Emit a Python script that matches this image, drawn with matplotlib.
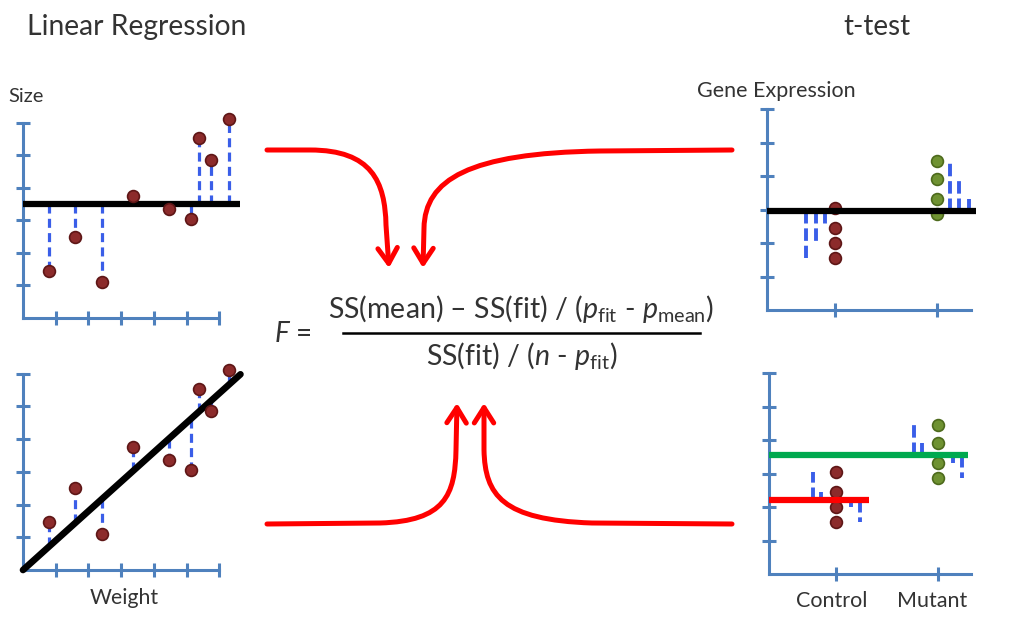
import matplotlib
matplotlib.use("Agg")
import matplotlib.pyplot as plt
from matplotlib.path import Path
from matplotlib.patches import FancyArrowPatch, ArrowStyle
import matplotlib.transforms as mtransforms

plt.rcParams['font.family'] = ['Lato', 'DejaVu Sans']
plt.rcParams['mathtext.fontset'] = 'custom'
plt.rcParams['mathtext.rm'] = 'Lato'
plt.rcParams['mathtext.it'] = 'Lato:italic'
plt.rcParams['lines.scale_dashes'] = False

# ---------------- data ----------------
weight = [0.80, 1.59, 2.42, 3.36, 4.46, 5.14, 5.38, 5.75, 6.30]
size = [1.46, 2.50, 1.10, 3.76, 3.35, 3.05, 5.55, 4.85, 6.12]
mean_size = 3.5
fit_slope = 0.90
fit_intercept = 0.0
line_x_end = 6.65

group_ticks = [2, 5]
group_labels = ['Control', 'Mutant']
control_y = [3.03, 2.45, 2.00, 1.54]
mutant_y = [4.45, 3.90, 3.30, 2.87]
mean_all = 2.96
mean_control = 2.21
mean_mutant = 3.55
resid_x_top_control = [2.41, 1.71, 1.44, 1.15]
resid_x_top_mutant = [5.38, 5.65, 5.94, 4.59]
resid_x_bot_control = [1.31, 1.54, 2.43, 2.70]
resid_x_bot_mutant = [4.30, 4.54, 5.46, 5.73]

# ---------------- style ----------------
W, H = 1015, 637
AX_C = '#4f81bd'
DASH_C = '#3a5ee8'
PT_C = '#8c2b2b'
PT_E = '#5e1616'
GR_C = '#6f9232'
GR_E = '#4d6a1c'
TXT = '#333333'
ARROW_C = '#ff0000'

fig = plt.figure(figsize=(W / 100, H / 100), dpi=100)
bg = fig.add_axes([0, 0, 1, 1])
bg.set_xlim(0, W)
bg.set_ylim(H, 0)
bg.axis('off')


def panel(ox, oy, ux, uy, xend, yend=6, xmax=7.2, ymax=6.6):
    ax = fig.add_axes([ox / W, 1 - oy / H, xmax * ux / W, ymax * uy / H])
    ax.set_xlim(0, xmax)
    ax.set_ylim(0, ymax)
    ax.patch.set_alpha(0)
    for s in ['top', 'right']:
        ax.spines[s].set_visible(False)
    for s in ['left', 'bottom']:
        ax.spines[s].set_color(AX_C)
        ax.spines[s].set_linewidth(2.2)
    ax.spines['left'].set_bounds(0, yend)
    ax.spines['bottom'].set_bounds(0, xend)
    ax.set_yticks(range(1, yend + 1))
    ax.set_yticklabels([])
    ax.tick_params(direction='inout', length=10, width=2.2, color=AX_C)
    return ax


def dashed(ax, x, y0, y1, lw=2.3, dashes=(6.5, 3.8)):
    ax.plot([x, x], [y0, y1], color=DASH_C, lw=lw, dashes=dashes,
            zorder=2, clip_on=False, solid_capstyle='butt')


# ---- top-left: fit to the mean ----
ax1 = panel(23, 318, 32.7, 32.5, 6)
ax1.set_xticks(range(1, 7))
ax1.set_xticklabels([])
for x, y in zip(weight, size):
    dashed(ax1, x, mean_size, y)
ax1.plot([0, line_x_end], [mean_size, mean_size], color='black', lw=4.5,
         zorder=3, clip_on=False, solid_capstyle='butt')
ax1.plot(weight, size, 'o', ms=8.5, mfc=PT_C, mec=PT_E, mew=1.2, zorder=4, clip_on=False)

# ---- bottom-left: least-squares line ----
ax2 = panel(23, 570, 32.7, 32.7, 6)
ax2.set_xticks(range(1, 7))
ax2.set_xticklabels([])
for x, y in zip(weight, size):
    dashed(ax2, x, fit_intercept + fit_slope * x, y)
ax2.plot([0, line_x_end], [fit_intercept, fit_intercept + fit_slope * line_x_end],
         color='black', lw=4.8, zorder=3, clip_on=False, solid_capstyle='round')
ax2.plot(weight, size, 'o', ms=8.5, mfc=PT_C, mec=PT_E, mew=1.2, zorder=4, clip_on=False)

# ---- top-right: overall mean ----
ax3 = panel(767, 310, 34.0, 33.5, 6)
ax3.set_xticks(group_ticks)
ax3.set_xticklabels([])
for x, y in zip(resid_x_top_control, control_y):
    dashed(ax3, x, mean_all, y, lw=2.8, dashes=(9, 3.5))
for x, y in zip(resid_x_top_mutant, mutant_y):
    dashed(ax3, x, mean_all, y, lw=2.8, dashes=(9, 3.5))
ax3.plot([group_ticks[0]] * len(control_y), control_y, 'o', ms=8.5, mfc=PT_C, mec=PT_E,
         mew=1.2, zorder=3, clip_on=False)
ax3.plot([group_ticks[1]] * len(mutant_y), mutant_y, 'o', ms=8.5, mfc=GR_C, mec=GR_E,
         mew=1.2, zorder=3, clip_on=False)
ax3.plot([0, 6.15], [mean_all, mean_all], color='black', lw=4.5, zorder=4,
         clip_on=False, solid_capstyle='butt')

# ---- bottom-right: group means ----
ax4 = panel(769, 574, 33.7, 33.5, 6)
ax4.set_xticks(group_ticks)
ax4.set_xticklabels(group_labels, fontsize=15.5, color=TXT)
ax4.tick_params(axis='x', pad=7)
shift = mtransforms.ScaledTranslation(-5 / 100, 0, fig.dpi_scale_trans)
for lab in ax4.get_xticklabels():
    lab.set_transform(lab.get_transform() + shift)
for x, y in zip(resid_x_bot_control, control_y):
    dashed(ax4, x, mean_control, y, lw=2.8, dashes=(9, 3.5))
for x, y in zip(resid_x_bot_mutant, mutant_y):
    dashed(ax4, x, mean_mutant, y, lw=2.8, dashes=(9, 3.5))
ax4.plot([group_ticks[0]] * len(control_y), control_y, 'o', ms=8.5, mfc=PT_C, mec=PT_E,
         mew=1.2, zorder=3, clip_on=False)
ax4.plot([group_ticks[1]] * len(mutant_y), mutant_y, 'o', ms=8.5, mfc=GR_C, mec=GR_E,
         mew=1.2, zorder=3, clip_on=False)
ax4.plot([0, 2.97], [mean_control, mean_control], color='#ff0000', lw=4.5, zorder=4,
         clip_on=False, solid_capstyle='butt')
ax4.plot([0, 5.9], [mean_mutant, mean_mutant], color='#00a94f', lw=4.5, zorder=4,
         clip_on=False, solid_capstyle='butt')

# ---------------- texts ----------------
bg.text(27, 35, 'Linear Regression', fontsize=20.3, color=TXT, va='baseline', ha='left')
bg.text(843, 35, 't-test', fontsize=20, color=TXT, va='baseline', ha='left')
bg.text(8, 102, 'Size', fontsize=14.5, color=TXT, va='baseline', ha='left')
bg.text(697, 97, 'Gene Expression', fontsize=15.5, color=TXT, va='baseline', ha='left')
bg.text(124, 604, 'Weight', fontsize=15.3, color=TXT, va='baseline', ha='center')

bg.text(274, 342, r'$F$ =', fontsize=20, color=TXT, va='baseline', ha='left')
bg.text(521, 318, r'SS(mean) – SS(fit) / ($p_{\mathrm{fit}}$ - $p_{\mathrm{mean}}$)',
        fontsize=20.5, color=TXT, va='baseline', ha='center')
bg.plot([343, 700], [333, 333], color='black', lw=1.8)
bg.text(522, 365, r'SS(fit) / ($n$ - $p_{\mathrm{fit}}$)',
        fontsize=20.5, color=TXT, va='baseline', ha='center')

# ---------------- arrows ----------------
M, L, C = Path.MOVETO, Path.LINETO, Path.CURVE4
arrow_paths = [
    ([(267, 150), (310, 150), (372, 150), (385, 182), (386, 225), (389, 268)],
     [M, L, C, C, C, L]),
    ([(732, 150), (600, 151), (468, 153), (425, 180), (424, 228), (423, 268)],
     [M, L, C, C, C, L]),
    ([(267, 524), (380, 523), (445, 521), (455, 495), (456, 450), (457, 403)],
     [M, L, C, C, C, L]),
    ([(732, 524), (592, 523), (502, 520), (485, 495), (484, 450), (484, 403)],
     [M, L, C, C, C, L]),
]
style = ArrowStyle('->', head_length=0.55, head_width=0.35)
for verts, codes in arrow_paths:
    arr = FancyArrowPatch(path=Path(verts, codes), arrowstyle=style, mutation_scale=20,
                          color=ARROW_C, lw=3.6, capstyle='round', joinstyle='round',
                          transform=bg.transData)
    bg.add_patch(arr)

fig.savefig('out.png', dpi=100)
